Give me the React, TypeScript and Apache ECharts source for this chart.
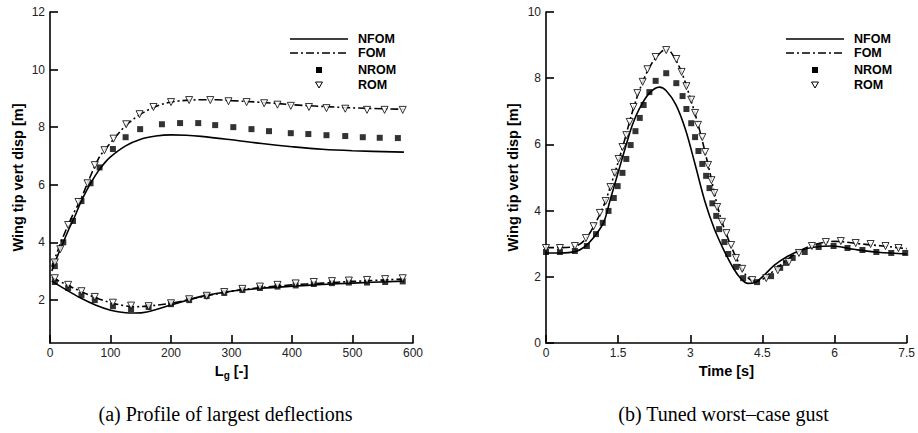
import React, { useEffect, useRef } from "react";
import * as echarts from "echarts";

// ---------- Left chart (a): L_g vs wing tip displacement ----------
const nfomUpperL = [3, 10, 20, 30, 40, 50, 60, 70, 80, 90, 100, 125, 150, 175, 200, 225, 250, 300, 350, 400, 450, 500, 585];
const nfomUpperV = [3.0, 3.4, 3.9, 4.4, 4.85, 5.35, 5.78, 6.15, 6.48, 6.75, 6.97, 7.35, 7.58, 7.69, 7.73, 7.72, 7.68, 7.56, 7.43, 7.32, 7.23, 7.18, 7.13];

const fomUpperL = [3, 10, 20, 30, 40, 50, 60, 70, 80, 90, 100, 125, 150, 175, 200, 225, 250, 275, 300, 350, 400, 450, 500, 585];
const fomUpperV = [3.15, 3.55, 4.1, 4.6, 5.05, 5.45, 5.95, 6.45, 6.9, 7.2, 7.45, 8.05, 8.45, 8.72, 8.87, 8.93, 8.95, 8.95, 8.92, 8.86, 8.78, 8.72, 8.67, 8.62];

const nromUpperL = [8, 22, 38, 52, 67, 82, 104, 125, 149, 185, 215, 245, 273, 303, 333, 362, 398, 427, 457, 488, 517, 545, 575];
const nromUpperV = [3.17, 4.0, 4.74, 5.43, 6.05, 6.6, 7.24, 7.65, 7.93, 8.1, 8.14, 8.14, 8.07, 8.0, 7.93, 7.86, 7.79, 7.76, 7.72, 7.69, 7.65, 7.63, 7.62];

const romUpperL = [8, 17, 30, 47, 62, 74, 90, 105, 126, 148, 171, 200, 230, 265, 295, 325, 354, 376, 398, 428, 457, 488, 524, 553, 583];
const romUpperV = [3.3, 3.76, 4.6, 5.4, 6.05, 6.68, 7.2, 7.6, 8.1, 8.45, 8.7, 8.87, 8.94, 8.94, 8.9, 8.87, 8.83, 8.78, 8.74, 8.7, 8.66, 8.64, 8.6, 8.6, 8.6];

const nfomLowerL = [3, 25, 50, 75, 100, 125, 140, 160, 200, 250, 300, 350, 400, 450, 500, 585];
const nfomLowerV = [2.65, 2.37, 2.07, 1.82, 1.64, 1.55, 1.54, 1.58, 1.82, 2.12, 2.3, 2.4, 2.47, 2.53, 2.58, 2.65];

const fomLowerL = [3, 25, 50, 75, 100, 125, 140, 160, 200, 250, 300, 350, 400, 450, 500, 585];
const fomLowerV = [2.78, 2.55, 2.3, 2.08, 1.9, 1.79, 1.76, 1.78, 1.88, 2.1, 2.3, 2.43, 2.52, 2.58, 2.64, 2.72];

const lowerMarkerL = [8, 30, 52, 74, 104, 134, 163, 200, 230, 259, 288, 318, 347, 376, 406, 436, 466, 494, 524, 554, 583];
const nromLowerV = [2.62, 2.41, 2.17, 1.99, 1.78, 1.68, 1.75, 1.85, 1.99, 2.13, 2.24, 2.34, 2.41, 2.46, 2.5, 2.55, 2.58, 2.6, 2.6, 2.62, 2.64];
const romLowerV = [2.75, 2.52, 2.3, 2.1, 1.9, 1.8, 1.78, 1.88, 2.02, 2.14, 2.27, 2.38, 2.46, 2.52, 2.57, 2.62, 2.65, 2.67, 2.69, 2.72, 2.75];

// ---------- Right chart (b): time history ----------
const nfomT = [0, 0.3, 0.6, 0.8, 1.0, 1.2, 1.33, 1.5, 1.67, 1.8, 1.95, 2.15, 2.36, 2.5, 2.7, 2.9, 3.1, 3.3, 3.5, 3.7, 3.9, 4.05, 4.2, 4.35, 4.5, 4.75, 5.0, 5.3, 5.6, 5.95, 6.4, 6.9, 7.5];
const nfomV = [2.72, 2.72, 2.76, 2.9, 3.2, 3.65, 4.3, 5.15, 6.0, 6.6, 7.1, 7.55, 7.73, 7.62, 7.2, 6.45, 5.4, 4.3, 3.45, 2.8, 2.25, 1.95, 1.8, 1.83, 2.0, 2.35, 2.6, 2.8, 2.9, 2.93, 2.83, 2.74, 2.69];

const fomT = [0, 0.3, 0.6, 0.8, 1.0, 1.2, 1.4, 1.6, 1.8, 2.0, 2.2, 2.4, 2.5, 2.6, 2.8, 3.0, 3.2, 3.4, 3.6, 3.8, 4.0, 4.2, 4.35, 4.5, 4.75, 5.0, 5.3, 5.6, 6.0, 6.5, 7.0, 7.5];
const fomV = [2.88, 2.88, 2.92, 3.1, 3.55, 4.15, 5.0, 5.95, 7.0, 7.85, 8.45, 8.8, 8.86, 8.78, 8.25, 7.4, 6.4, 5.2, 3.95, 3.1, 2.45, 1.97, 1.87, 1.92, 2.2, 2.5, 2.8, 2.98, 3.07, 3.0, 2.93, 2.85];

const nromT = [0, 0.29, 0.6, 0.85, 1.04, 1.18, 1.3, 1.41, 1.49, 1.59, 1.67, 1.76, 1.86, 1.95, 2.03, 2.15, 2.28, 2.5, 2.71, 2.84, 2.92, 3.02, 3.1, 3.17, 3.25, 3.33, 3.4, 3.46, 3.54, 3.6, 3.71, 3.79, 3.95, 4.1, 4.39, 4.68, 4.87, 4.99, 5.13, 5.38, 5.67, 5.98, 6.27, 6.58, 6.87, 7.18, 7.47];
const nromV = [2.75, 2.75, 2.78, 2.93, 3.29, 3.63, 3.99, 4.38, 4.74, 5.14, 5.56, 5.98, 6.4, 6.8, 7.19, 7.58, 7.92, 8.15, 7.85, 7.46, 7.07, 6.64, 6.22, 5.8, 5.41, 5.05, 4.68, 4.22, 3.84, 3.44, 3.05, 2.69, 2.3, 1.96, 1.84, 2.02, 2.27, 2.42, 2.57, 2.75, 2.9, 2.93, 2.87, 2.81, 2.75, 2.72, 2.72];

const romT = [0, 0.29, 0.6, 0.83, 0.99, 1.12, 1.24, 1.34, 1.43, 1.51, 1.59, 1.67, 1.74, 1.82, 1.9, 2.01, 2.11, 2.28, 2.5, 2.71, 2.82, 2.92, 3.02, 3.1, 3.16, 3.25, 3.31, 3.37, 3.44, 3.5, 3.56, 3.66, 3.75, 3.85, 3.95, 4.08, 4.29, 4.58, 4.82, 5.05, 5.26, 5.53, 5.82, 6.13, 6.44, 6.75, 7.06, 7.33];
const romV = [2.87, 2.87, 2.93, 3.17, 3.53, 3.93, 4.29, 4.71, 5.14, 5.56, 5.92, 6.28, 6.68, 7.13, 7.55, 7.89, 8.27, 8.64, 8.85, 8.58, 8.19, 7.76, 7.35, 6.95, 6.59, 6.22, 5.77, 5.38, 4.92, 4.53, 4.11, 3.66, 3.32, 2.96, 2.57, 2.24, 1.9, 1.96, 2.2, 2.45, 2.72, 2.93, 3.05, 3.08, 3.02, 2.99, 2.93, 2.87];

// ---------- Axis ticks / labels ----------
const leftYTicks = [2, 4, 6, 8, 10, 12];
const legendNames = ["NFOM", "FOM", "NROM", "ROM"];
const yAxisTitle = "Wing tip vert disp [m]";
const captionA = "(a) Profile of largest deflections";
const captionB = "(b) Tuned worst\u2013case gust";

const zip = (xs: number[], ys: number[]) => xs.map((x, i) => [x, ys[i]]);

const SANS = '"Liberation Sans", Arial, Helvetica, sans-serif';
const SERIF = '"Liberation Serif", "Times New Roman", serif';
const DASHDOT = [8, 3, 2, 3];

function lineSeries(name: string, data: number[][], idx: number, dashed: boolean) {
  return {
    name,
    type: "line",
    xAxisIndex: idx,
    yAxisIndex: idx,
    data,
    symbol: "none",
    smooth: 0.35,
    z: 3,
    lineStyle: { color: "#000", width: 1.6, type: dashed ? DASHDOT : "solid" },
    itemStyle: { color: "#000" },
  };
}

function squareSeries(name: string, data: number[][], idx: number) {
  return {
    name,
    type: "scatter",
    xAxisIndex: idx,
    yAxisIndex: idx,
    data,
    symbol: "rect",
    symbolSize: 6,
    z: 2,
    itemStyle: { color: "#000" },
  };
}

function triSeries(name: string, data: number[][], idx: number) {
  return {
    name,
    type: "scatter",
    xAxisIndex: idx,
    yAxisIndex: idx,
    data,
    symbol: "triangle",
    symbolRotate: 180,
    symbolSize: 7,
    z: 4,
    itemStyle: { color: "#fff", borderColor: "#000", borderWidth: 1 },
  };
}

const axisCommon = {
  type: "value",
  splitLine: { show: false },
  axisLine: { show: true, onZero: false, lineStyle: { color: "#000", width: 1.6 } },
  axisTick: { show: true, inside: true, length: 8, lineStyle: { color: "#000", width: 1.6 } },
  axisLabel: { color: "#222", fontSize: 12, fontFamily: SANS, showMinLabel: true, showMaxLabel: true },
  nameTextStyle: { color: "#000", fontSize: 14.5, fontWeight: "bold", fontFamily: SANS },
};

// hand-drawn legend (line sample / marker sample + bold label)
function legendGraphic(x0: number) {
  const rows = [39, 53, 70, 85];
  const lineEnd = x0 + 58;
  const mid = x0 + 29;
  const textX = x0 + 68;
  const els: any[] = [
    { type: "line", shape: { x1: x0, y1: rows[0], x2: lineEnd, y2: rows[0] }, style: { stroke: "#000", lineWidth: 1.6 } },
    { type: "line", shape: { x1: x0, y1: rows[1], x2: lineEnd, y2: rows[1] }, style: { stroke: "#000", lineWidth: 1.6, lineDash: DASHDOT } },
    { type: "rect", shape: { x: mid - 3, y: rows[2] - 3, width: 6, height: 6 }, style: { fill: "#000" } },
    {
      type: "polygon",
      shape: { points: [[mid - 3.5, rows[3] - 3], [mid + 3.5, rows[3] - 3], [mid, rows[3] + 3]] },
      style: { fill: "#fff", stroke: "#000", lineWidth: 1 },
    },
  ];
  legendNames.forEach((n, i) => {
    els.push({
      type: "text",
      x: textX,
      y: rows[i],
      style: { text: n, fill: "#000", font: `bold 12.5px ${SANS}`, textAlign: "left", textVerticalAlign: "middle" },
    });
  });
  return els;
}

export default function App() {
  const ref = useRef<HTMLDivElement>(null);
  useEffect(() => {
    if (!ref.current) return;
    const chart = echarts.init(ref.current, null, { renderer: "svg" });
    const option = {
      animation: false,
      backgroundColor: "#fff",
      grid: [
        { left: 50, top: 12, width: 363, height: 331 },
        { left: 546, top: 12, width: 362, height: 331 },
      ],
      xAxis: [
        {
          ...axisCommon,
          gridIndex: 0,
          min: 0,
          max: 600,
          interval: 100,
          axisLabel: { ...axisCommon.axisLabel, margin: 4 },
          name: "{l|L}{s|g}{l| [-]}",
          nameLocation: "middle",
          nameGap: 15,
          nameTextStyle: {
            ...axisCommon.nameTextStyle,
            rich: {
              l: { fontSize: 14.5, fontWeight: "bold", fontFamily: SANS, color: "#000" },
              s: { fontSize: 10, fontWeight: "bold", fontFamily: SANS, color: "#000", verticalAlign: "bottom", padding: [8, 0, 0, 0] },
            },
          },
        },
        {
          ...axisCommon,
          gridIndex: 1,
          min: 0,
          max: 7.5,
          interval: 1.5,
          axisLabel: { ...axisCommon.axisLabel, margin: 4 },
          name: "Time [s]",
          nameLocation: "middle",
          nameGap: 15,
        },
      ],
      yAxis: [
        {
          ...axisCommon,
          gridIndex: 0,
          min: 0.5,
          max: 12,
          axisTick: { ...axisCommon.axisTick, customValues: leftYTicks },
          axisLabel: { ...axisCommon.axisLabel, margin: 5, customValues: leftYTicks },
          name: yAxisTitle,
          nameLocation: "middle",
          nameGap: 25,
        },
        {
          ...axisCommon,
          gridIndex: 1,
          min: 0,
          max: 10,
          interval: 2,
          axisLabel: { ...axisCommon.axisLabel, margin: 5 },
          name: yAxisTitle,
          nameLocation: "middle",
          nameGap: 26,
        },
      ],
      series: [
        lineSeries("NFOM", zip(nfomUpperL, nfomUpperV), 0, false),
        lineSeries("NFOM", zip(nfomLowerL, nfomLowerV), 0, false),
        lineSeries("FOM", zip(fomUpperL, fomUpperV), 0, true),
        lineSeries("FOM", zip(fomLowerL, fomLowerV), 0, true),
        squareSeries("NROM", zip(nromUpperL, nromUpperV), 0),
        squareSeries("NROM", zip(lowerMarkerL, nromLowerV), 0),
        triSeries("ROM", zip(romUpperL, romUpperV), 0),
        triSeries("ROM", zip(lowerMarkerL, romLowerV), 0),
        lineSeries("NFOM", zip(nfomT, nfomV), 1, false),
        lineSeries("FOM", zip(fomT, fomV), 1, true),
        squareSeries("NROM", zip(nromT, nromV), 1),
        triSeries("ROM", zip(romT, romV), 1),
      ],
      graphic: [
        ...legendGraphic(290),
        ...legendGraphic(786),
        {
          type: "text",
          x: 225.5,
          y: 414,
          style: { text: captionA, fill: "#000", font: `20px ${SERIF}`, textAlign: "center", textVerticalAlign: "middle" },
        },
        {
          type: "text",
          x: 723.5,
          y: 414,
          style: { text: captionB, fill: "#000", font: `20px ${SERIF}`, textAlign: "center", textVerticalAlign: "middle" },
        },
      ],
    };
    chart.setOption(option as any);
    return () => chart.dispose();
  }, []);
  return <div ref={ref} style={{ position: "absolute", left: 0, top: 0, width: 918, height: 433, background: "#fff" }} />;
}
